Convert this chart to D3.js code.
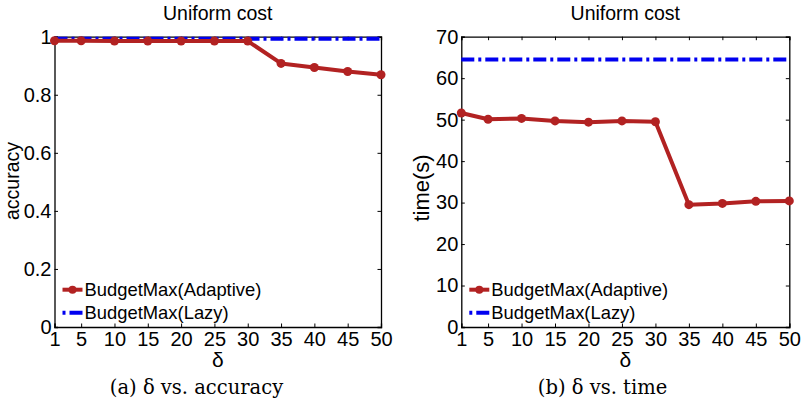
<!DOCTYPE html>
<html>
<head>
<meta charset="utf-8">
<script src="https://cdn.jsdelivr.net/npm/d3@7"></script>
<style>
  body { margin: 0; background: #fff; }
  svg text { font-family: "Liberation Sans", Arial, sans-serif; fill: #000; }
  svg text.caption { font-family: "DejaVu Serif", "Liberation Serif", serif; }
</style>
</head>
<body>
<svg id="chart" width="802" height="406"></svg>
<script>
// data
const deltas = [1, 5, 10, 15, 20, 25, 30, 35, 40, 45, 50];
const accAdaptive = [0.986, 0.986, 0.985, 0.985, 0.985, 0.985, 0.985, 0.908, 0.894, 0.880, 0.869];
const accLazy = 0.993;
const timeAdaptive = [51.6, 50.1, 50.3, 49.7, 49.4, 49.7, 49.5, 29.5, 29.8, 30.3, 30.4];
const timeLazy = 64.5;
const accTicks = [0, 0.2, 0.4, 0.6, 0.8, 1];
const timeTicks = [0, 10, 20, 30, 40, 50, 60, 70];
const seriesNames = ["BudgetMax(Adaptive)", "BudgetMax(Lazy)"];

const red = "#b22222";
const blue = "#0000f0";
const dashDot = "13,4,3,4";

const svg = d3.select("#chart");

function drawPanel(opts) {
  const x = d3.scaleLinear().domain([1, 50]).range([opts.left, opts.right]);
  const y = d3.scaleLinear().domain(opts.yDomain).range([opts.bottom, opts.top]);
  const g = svg.append("g");

  // inward ticks on all four sides
  const tick = 3.5;
  g.append("g")
    .attr("transform", "translate(0," + opts.bottom + ")")
    .call(d3.axisBottom(x).tickValues(deltas).tickSize(-tick).tickPadding(5).tickFormat(d3.format("d")));
  g.append("g")
    .attr("transform", "translate(0," + opts.top + ")")
    .call(d3.axisTop(x).tickValues(deltas).tickSize(-tick).tickFormat(""));
  g.append("g")
    .attr("transform", "translate(" + opts.left + ",0)")
    .call(d3.axisLeft(y).tickValues(opts.ticks).tickSize(-tick).tickPadding(3).tickFormat(d => String(d)));
  g.append("g")
    .attr("transform", "translate(" + opts.right + ",0)")
    .call(d3.axisRight(y).tickValues(opts.ticks).tickSize(-tick).tickFormat(""));

  g.selectAll(".domain").attr("stroke", "#000").attr("stroke-width", 1.3);
  g.selectAll(".tick line").attr("stroke", "#000").attr("stroke-width", 1);
  g.selectAll(".tick text").attr("font-size", 20).attr("fill", "#000");

  // lazy baseline
  g.append("line")
    .attr("x1", x(1)).attr("x2", x(50))
    .attr("y1", y(opts.lazy)).attr("y2", y(opts.lazy))
    .attr("stroke", blue).attr("stroke-width", 4)
    .attr("stroke-dasharray", dashDot);

  // adaptive curve
  const line = d3.line().x((d, i) => x(deltas[i])).y(d => y(d));
  g.append("path")
    .datum(opts.adaptive)
    .attr("d", line)
    .attr("fill", "none")
    .attr("stroke", red).attr("stroke-width", 4)
    .attr("stroke-linejoin", "round");
  g.selectAll("circle.pt")
    .data(opts.adaptive)
    .enter()
    .append("circle")
    .attr("class", "pt")
    .attr("cx", (d, i) => x(deltas[i]))
    .attr("cy", d => y(d))
    .attr("r", 4.5)
    .attr("fill", red);

  // title, labels, caption
  const cx = (opts.left + opts.right) / 2;
  g.append("text").attr("x", cx).attr("y", 20)
    .attr("text-anchor", "middle").attr("font-size", 19.5).text("Uniform cost");
  g.append("text").attr("x", cx).attr("y", 367)
    .attr("text-anchor", "middle").attr("font-size", 21).text("δ");
  g.append("text")
    .attr("transform", "translate(" + opts.ylabelX + "," + opts.ylabelY + ") rotate(-90)")
    .attr("text-anchor", "middle").attr("font-size", opts.ylabelSize).text(opts.ylabel);
  g.append("text").attr("class", "caption").attr("x", opts.captionX).attr("y", 394)
    .attr("text-anchor", "middle").attr("font-size", 19.5).text(opts.caption);

  // legend
  const lx = opts.left + 8;
  const rows = [opts.top + 253, opts.top + 276];
  g.append("line")
    .attr("x1", lx).attr("x2", lx + 20).attr("y1", rows[0]).attr("y2", rows[0])
    .attr("stroke", red).attr("stroke-width", 4);
  g.append("circle").attr("cx", lx + 10).attr("cy", rows[0]).attr("r", 4).attr("fill", red);
  g.append("line")
    .attr("x1", lx).attr("x2", lx + 20).attr("y1", rows[1]).attr("y2", rows[1])
    .attr("stroke", blue).attr("stroke-width", 4)
    .attr("stroke-dasharray", "3,4,13,4");
  g.selectAll("text.leg")
    .data(seriesNames)
    .enter()
    .append("text")
    .attr("class", "leg")
    .attr("x", lx + 22)
    .attr("y", (d, i) => rows[i] + 6.5)
    .attr("font-size", 18.4)
    .text(d => d);
}

drawPanel({
  left: 54.5, right: 381, top: 36.7, bottom: 327,
  yDomain: [0, 1], ticks: accTicks,
  adaptive: accAdaptive, lazy: accLazy,
  ylabel: "accuracy", ylabelX: 18.5, ylabelY: 181, ylabelSize: 19.5,
  caption: "(a) δ vs. accuracy", captionX: 196.5
});

drawPanel({
  left: 461.3, right: 789.3, top: 36.7, bottom: 327,
  yDomain: [0, 70], ticks: timeTicks,
  adaptive: timeAdaptive, lazy: timeLazy,
  ylabel: "time(s)", ylabelX: 429, ylabelY: 188, ylabelSize: 22,
  caption: "(b) δ vs. time", captionX: 602.5
});
</script>
</body>
</html>
